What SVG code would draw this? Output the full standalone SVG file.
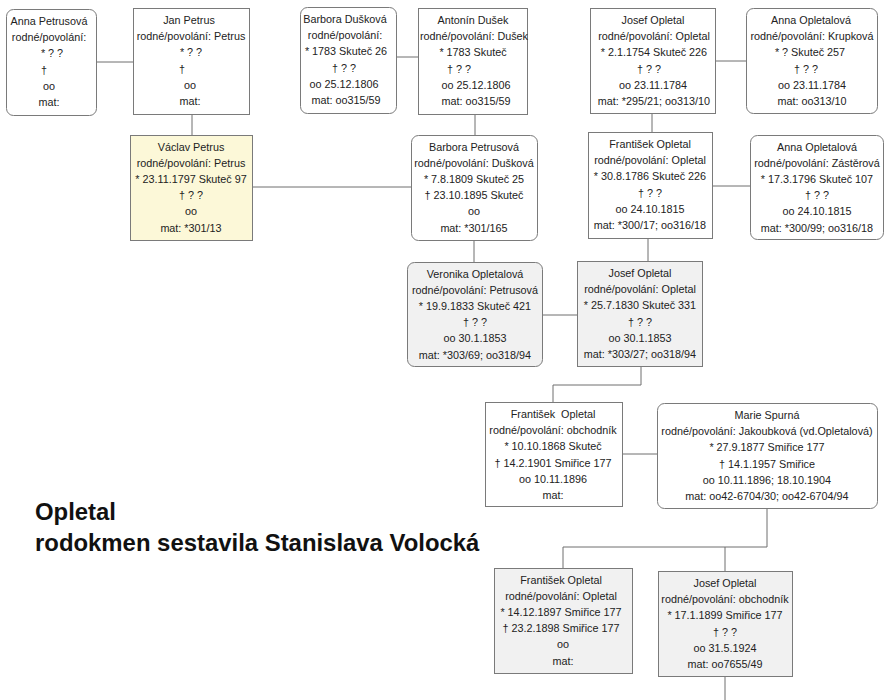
<svg xmlns="http://www.w3.org/2000/svg" width="892" height="700" viewBox="0 0 892 700">
<style>
.b{fill:#fff;stroke:#7a7a7a;stroke-width:1}
.g{fill:#f1f1f1}
.y{fill:#fcf8d8}
.t{font-family:"Liberation Sans",Arial,sans-serif;font-size:10.8px;fill:#222;text-anchor:middle}
.c{fill:none;stroke:#6e6e6e;stroke-width:1}
.h{font-family:"Liberation Sans",Arial,sans-serif;font-size:23.9px;font-weight:bold;fill:#111}
</style>
<rect width="892" height="700" fill="#fff"/>
<g id="connectors">
<path class="c" d="M96,62H133M396,57H418M715,61H746M192,114V135M475,114V135M652,113V132M252,187H411M712,186H750M474,240V262M648,238V261M542,315H577M641,366V385H553V402M622,454H657M767,508V547H563V568M725,547V571M725,676V700"/>
</g>
<g id="n1"><rect class="b" x="6.5" y="9.5" width="90" height="106" rx="7"/>
<text class="t" x="49" y="25">Anna Petrusová</text><text class="t" x="49" y="41.2">rodné/povolání:</text><text class="t" x="52" y="57.4">* ? ?</text><text class="t" x="44" y="73.6">†</text><text class="t" x="49" y="89.8">oo</text><text class="t" x="49" y="106">mat:</text></g>
<g id="n2"><rect class="b" x="133.5" y="8.5" width="116" height="106"/>
<text class="t" x="189" y="24">Jan Petrus</text><text class="t" x="191" y="40.2">rodné/povolání: Petrus</text><text class="t" x="191" y="56.4">* ? ?</text><text class="t" x="182" y="72.6">†</text><text class="t" x="190" y="88.8">oo</text><text class="t" x="190" y="105">mat:</text></g>
<g id="n3"><rect class="b" x="300.5" y="7.5" width="96" height="106" rx="7"/>
<text class="t" x="345" y="23">Barbora Dušková</text><text class="t" x="345" y="39.2">rodné/povolání:</text><text class="t" x="346" y="55.4">* 1783 Skuteč 26</text><text class="t" x="344" y="71.6">† ? ?</text><text class="t" x="344" y="87.8">oo 25.12.1806</text><text class="t" x="346" y="104">mat: oo315/59</text></g>
<g id="n4"><rect class="b" x="418.5" y="8.5" width="109" height="106"/>
<text class="t" x="473" y="24">Antonín Dušek</text><text class="t" x="474" y="40.2">rodné/povolání: Dušek</text><text class="t" x="473" y="56.4">* 1783 Skuteč</text><text class="t" x="459" y="72.6">† ? ?</text><text class="t" x="476" y="88.8">oo 25.12.1806</text><text class="t" x="476" y="105">mat: oo315/59</text></g>
<g id="n5"><rect class="b" x="590.5" y="8.5" width="125" height="105"/>
<text class="t" x="653" y="24">Josef Opletal</text><text class="t" x="654" y="40.2">rodné/povolání: Opletal</text><text class="t" x="654" y="56.4">* 2.1.1754 Skuteč 226</text><text class="t" x="649" y="72.6">† ? ?</text><text class="t" x="653" y="88.8">oo 23.11.1784</text><text class="t" x="654" y="105">mat: *295/21; oo313/10</text></g>
<g id="n6"><rect class="b" x="746.5" y="8.5" width="131" height="105" rx="7"/>
<text class="t" x="811" y="24">Anna Opletalová</text><text class="t" x="812" y="40.2">rodné/povolání: Krupková</text><text class="t" x="810" y="56.4">* ? Skuteč 257</text><text class="t" x="806" y="72.6">† ? ?</text><text class="t" x="812" y="88.8">oo 23.11.1784</text><text class="t" x="812" y="105">mat: oo313/10</text></g>
<g id="n7"><rect class="b y" x="130.5" y="135.5" width="122" height="105"/>
<text class="t" x="191" y="150.5">Václav Petrus</text><text class="t" x="191" y="166.7">rodné/povolání: Petrus</text><text class="t" x="191" y="182.9">* 23.11.1797 Skuteč 97</text><text class="t" x="191" y="199.1">† ? ?</text><text class="t" x="191" y="215.3">oo</text><text class="t" x="191" y="231.5">mat: *301/13</text></g>
<g id="n8"><rect class="b" x="411.5" y="135.5" width="126" height="105" rx="7"/>
<text class="t" x="474" y="150.5">Barbora Petrusová</text><text class="t" x="474" y="166.7">rodné/povolání: Dušková</text><text class="t" x="474" y="182.9">* 7.8.1809 Skuteč 25</text><text class="t" x="474" y="199.1">† 23.10.1895 Skuteč</text><text class="t" x="474" y="215.3">oo</text><text class="t" x="474" y="231.5">mat: *301/165</text></g>
<g id="n9"><rect class="b" x="588.5" y="132.5" width="124" height="106"/>
<text class="t" x="650" y="148">František Opletal</text><text class="t" x="650" y="164.2">rodné/povolání: Opletal</text><text class="t" x="650" y="180.4">* 30.8.1786 Skuteč 226</text><text class="t" x="650" y="196.6">† ? ?</text><text class="t" x="650" y="212.8">oo 24.10.1815</text><text class="t" x="650" y="229">mat: *300/17; oo316/18</text></g>
<g id="n10"><rect class="b" x="750.5" y="135.5" width="133" height="104" rx="7"/>
<text class="t" x="817" y="150.5">Anna Opletalová</text><text class="t" x="817" y="166.7">rodné/povolání: Zástěrová</text><text class="t" x="817" y="182.9">* 17.3.1796 Skuteč 107</text><text class="t" x="817" y="199.1">† ? ?</text><text class="t" x="817" y="215.3">oo 24.10.1815</text><text class="t" x="817" y="231.5">mat: *300/99; oo316/18</text></g>
<g id="n11"><rect class="b g" x="407.5" y="262.5" width="135" height="104" rx="7"/>
<text class="t" x="475" y="277.5">Veronika Opletalová</text><text class="t" x="475" y="293.7">rodné/povolání: Petrusová</text><text class="t" x="475" y="309.9">* 19.9.1833 Skuteč 421</text><text class="t" x="475" y="326.1">† ? ?</text><text class="t" x="475" y="342.3">oo 30.1.1853</text><text class="t" x="475" y="358.5">mat: *303/69; oo318/94</text></g>
<g id="n12"><rect class="b g" x="577.5" y="261.5" width="125" height="105"/>
<text class="t" x="640" y="277">Josef Opletal</text><text class="t" x="640" y="293.2">rodné/povolání: Opletal</text><text class="t" x="640" y="309.4">* 25.7.1830 Skuteč 331</text><text class="t" x="640" y="325.6">† ? ?</text><text class="t" x="640" y="341.8">oo 30.1.1853</text><text class="t" x="640" y="358">mat: *303/27; oo318/94</text></g>
<g id="n13"><rect class="b" x="485.5" y="402.5" width="137" height="104"/>
<text class="t" x="553" y="418" xml:space="preserve">František  Opletal</text><text class="t" x="553" y="434.2">rodné/povolání: obchodník</text><text class="t" x="553" y="450.4">* 10.10.1868 Skuteč</text><text class="t" x="553" y="466.6">† 14.2.1901 Smiřice 177</text><text class="t" x="553" y="482.8">oo 10.11.1896</text><text class="t" x="553" y="499">mat:</text></g>
<g id="n14"><rect class="b" x="657.5" y="403.5" width="220" height="105" rx="7"/>
<text class="t" x="767" y="419">Marie Spurná</text><text class="t" x="767" y="435.2">rodné/povolání: Jakoubková (vd.Opletalová)</text><text class="t" x="767" y="451.4">* 27.9.1877 Smiřice 177</text><text class="t" x="767" y="467.6">† 14.1.1957 Smiřice</text><text class="t" x="767" y="483.8">oo 10.11.1896; 18.10.1904</text><text class="t" x="767" y="500">mat: oo42-6704/30; oo42-6704/94</text></g>
<g id="n15"><rect class="b g" x="494.5" y="568.5" width="138" height="105"/>
<text class="t" x="561" y="583.5">František Opletal</text><text class="t" x="561" y="599.7">rodné/povolání: Opletal</text><text class="t" x="561" y="615.9">* 14.12.1897 Smiřice 177</text><text class="t" x="561" y="632.1">† 23.2.1898 Smiřice 177</text><text class="t" x="563" y="648.3">oo</text><text class="t" x="563" y="664.5">mat:</text></g>
<g id="n16"><rect class="b g" x="658.5" y="571.5" width="134" height="105"/>
<text class="t" x="725" y="587">Josef Opletal</text><text class="t" x="725" y="603.2">rodné/povolání: obchodník</text><text class="t" x="725" y="619.4">* 17.1.1899 Smiřice 177</text><text class="t" x="725" y="635.6">† ? ?</text><text class="t" x="725" y="651.8">oo 31.5.1924</text><text class="t" x="725" y="668">mat: oo7655/49</text></g>
<g id="title">
<text class="h" x="35" y="519.5">Opletal</text>
<text class="h" x="35" y="550.5">rodokmen sestavila Stanislava Volocká</text>
</g>
</svg>
